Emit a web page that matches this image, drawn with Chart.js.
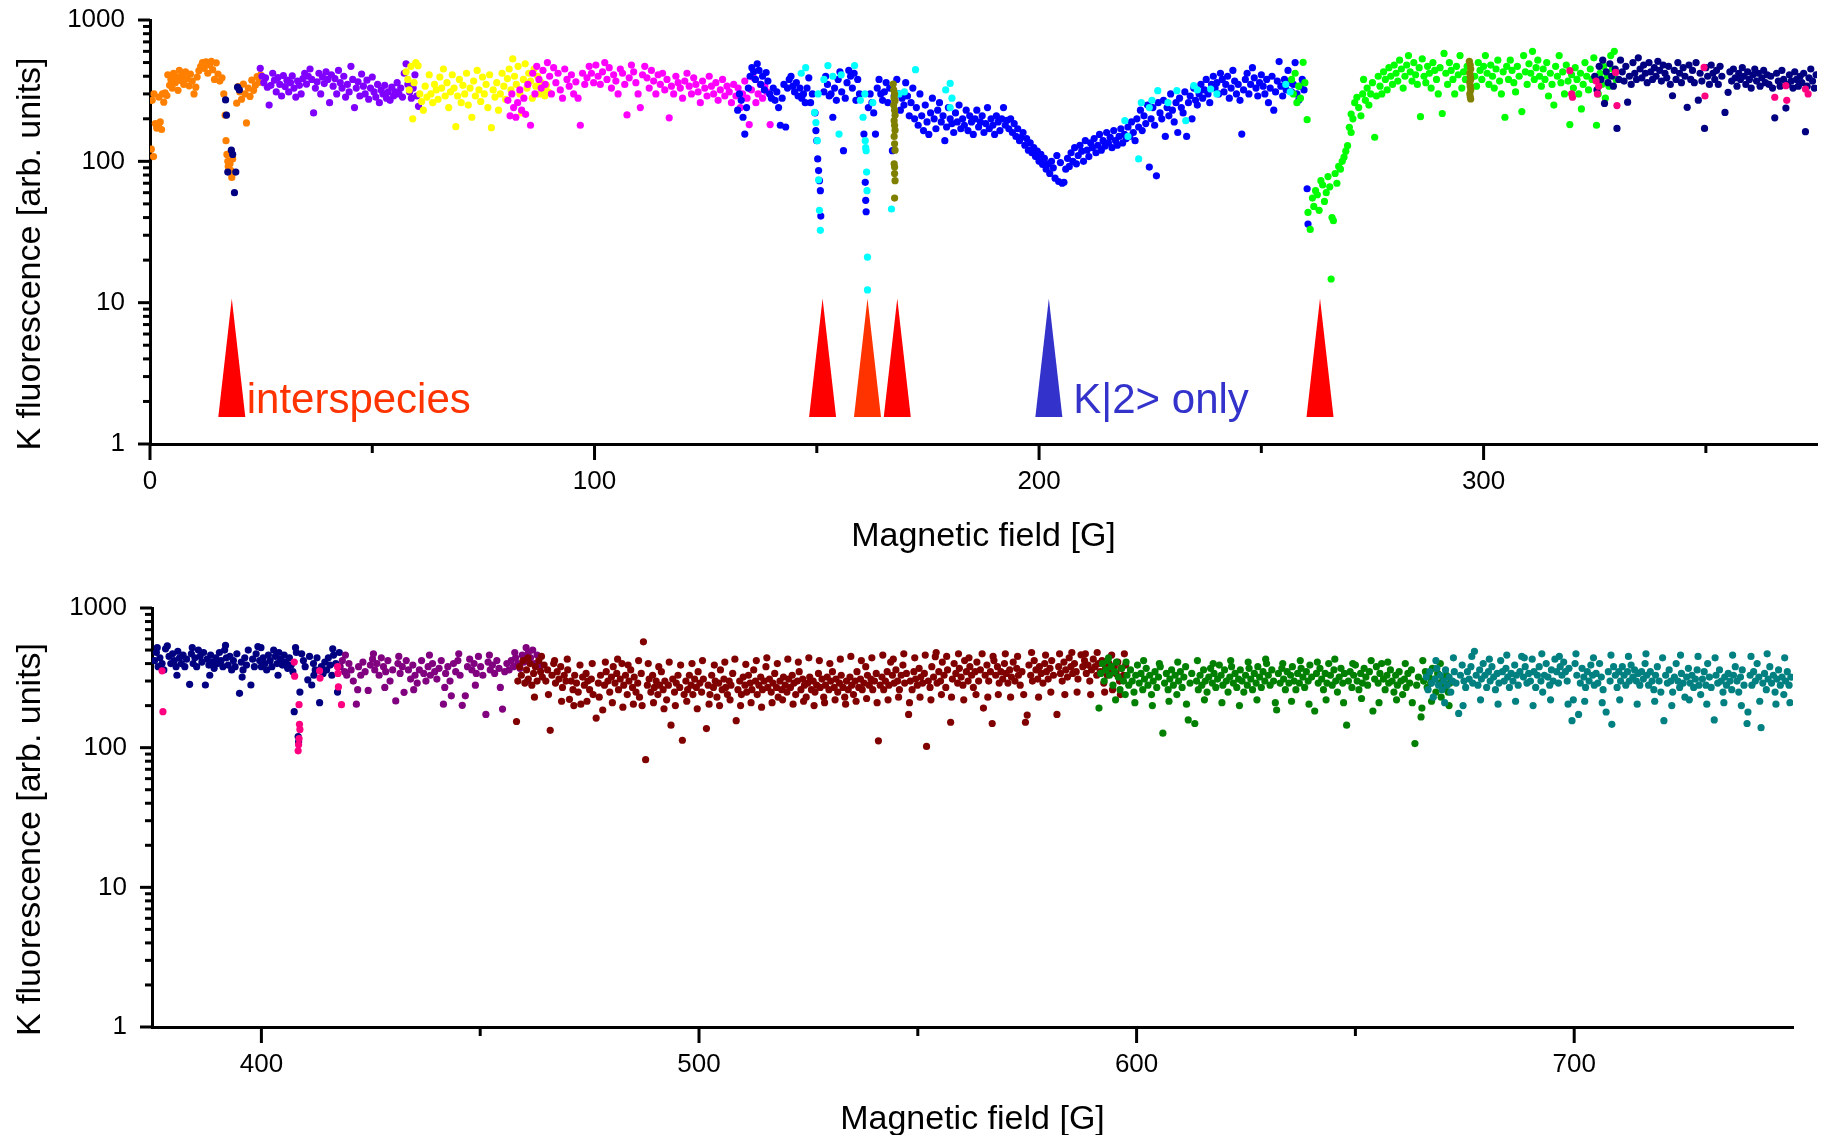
<!DOCTYPE html>
<html>
<head>
<meta charset="utf-8">
<title>K fluorescence vs magnetic field</title>
<script src="https://cdn.jsdelivr.net/npm/chart.js@4/dist/chart.umd.min.js"></script>
<style>
  html, body { margin: 0; padding: 0; background: #fff; }
  #wrap { position: relative; width: 1845px; height: 1135px; }
  #wrap canvas { position: absolute; left: 0; }
  #top { top: 0; }
  #bottom { top: 560px; }
</style>
</head>
<body>
<div id="wrap">
  <canvas id="top" width="1845" height="560"></canvas>
  <canvas id="bottom" width="1845" height="575"></canvas>
</div>
<script>
// ---- axis ticks ----
const topMajorX = [0, 100, 200, 300];
const topMinorX = [50, 150, 250, 350];
const bottomMajorX = [400, 500, 600, 700];
const bottomMinorX = [450, 550, 650];
const yMajor = [1, 10, 100, 1000];
const yMinor = [2, 3, 4, 5, 6, 7, 8, 9, 20, 30, 40, 50, 60, 70, 80, 90, 200, 300, 400, 500, 600, 700, 800, 900];
const xTitle = 'Magnetic field [G]';
const yTitle = 'K fluorescence [arb. units]';

// ---- resonance markers (field in G) ----
const resonanceField = [18.4, 151.3, 161.4, 168.1, 202.2, 263.2];
const resonanceColor = ['#FF0000', '#FF0000', '#FF3300', '#FF0000', '#3333CC', '#FF0000'];
const markerTop = 10.7;
const markerBase = 1.55;
const notes = [
  { text: 'interspecies', field: 21.75, level: 1.66, color: '#FF3300' },
  { text: 'K|2> only', field: 207.7, level: 1.65, color: '#3333CC' }
];

// ---- measured points: [field G, fluorescence] ----
const topOrange = [[0.3,122],[0.8,108],[0.5,270],[0.9,300],[1.2,185],[1.5,172],[1.9,178],[2.3,190],[2.6,168],[2.0,285],[2.8,300],[3.1,262],[3.4,305],[3.8,292],[4.0,410],[4.4,345],[4.7,380],[5.0,330],[5.3,420],[5.7,360],[6.0,395],[6.3,318],[6.6,440],[7.0,372],[7.3,405],[7.6,350],[8.0,430],[8.4,385],[8.8,342],[9.1,415],[9.5,370],[9.9,300],[10.3,335],[10.6,395],[11.0,438],[11.4,470],[11.8,500],[12.2,455],[12.6,505],[13.0,420],[13.4,480],[13.8,510],[14.1,445],[14.5,380],[14.9,498],[15.3,415],[15.7,370],[16.2,390],[16.6,300],[16.9,212],[17.1,140],[17.3,112],[17.5,100],[17.6,92],[17.8,88],[18.0,96],[18.2,86],[18.4,77],[18.6,104],[19.5,258],[19.8,338],[20.2,310],[20.6,275],[21.0,352],[21.4,300],[21.7,187],[22.1,330],[22.5,288],[22.9,375],[23.3,318],[23.7,345],[24.1,398],[24.5,362],[24.9,410]];
const topViolet = [[24.8,455],[25.2,400],[25.6,360],[26.0,390],[26.4,335],[26.8,250],[27.2,345],[27.6,420],[28.0,375],[28.4,310],[28.8,392],[29.2,350],[29.6,290],[30.0,405],[30.4,338],[30.8,375],[31.2,310],[31.6,360],[32.0,402],[32.4,330],[32.8,285],[33.2,370],[33.6,345],[34.0,300],[34.4,385],[34.8,420],[35.2,352],[35.6,400],[36.0,450],[36.4,380],[36.8,220],[37.2,330],[37.6,365],[38.0,420],[38.4,300],[38.8,395],[39.2,355],[39.6,430],[40.0,380],[40.4,260],[40.8,410],[41.2,340],[41.6,385],[42.0,300],[42.4,440],[42.8,360],[43.2,330],[43.6,400],[44.0,285],[44.4,350],[44.8,310],[45.2,470],[45.6,380],[46.0,240],[46.4,330],[46.8,365],[47.2,290],[47.6,415],[48.0,340],[48.4,300],[48.8,375],[49.2,275],[49.6,330],[50.0,395],[50.4,310],[50.8,285],[51.2,350],[51.6,260],[52.0,320],[52.4,300],[52.8,345],[53.2,280],[53.6,310],[54.0,270],[54.4,335],[54.8,290],[55.2,310],[55.6,360],[56.0,300],[56.4,330],[56.8,285],[57.2,420],[57.6,490],[58.0,350],[58.4,310],[58.8,280],[59.2,330],[59.6,410],[60.0,290],[60.4,245]];
const topYellow = [[57.6,430],[58.0,380],[58.3,320],[58.7,470],[59.1,200],[59.4,360],[59.8,500],[60.3,475],[60.7,300],[61.1,265],[61.5,230],[61.9,340],[62.3,285],[62.8,410],[63.2,300],[63.6,260],[64.0,350],[64.4,320],[64.8,275],[65.2,395],[65.6,330],[66.0,450],[66.4,290],[66.8,360],[67.2,240],[67.6,310],[68.0,410],[68.4,330],[68.8,176],[69.2,290],[69.6,380],[70.0,260],[70.4,345],[70.8,300],[71.2,420],[71.6,250],[72.0,330],[72.4,205],[72.8,370],[73.2,290],[73.6,440],[74.0,320],[74.4,265],[74.8,395],[75.2,300],[75.6,350],[76.0,240],[76.4,410],[76.8,173],[77.2,320],[77.6,285],[78.0,360],[78.4,230],[78.8,300],[79.2,420],[79.6,340],[80.0,275],[80.4,385],[80.8,450],[81.2,320],[81.6,530],[82.0,400],[82.4,350],[82.8,470],[83.2,300],[83.6,220],[84.0,380],[84.4,490],[84.8,330],[85.2,420],[85.6,370],[86.0,280],[86.4,450],[86.8,340],[87.2,400],[87.6,300],[88.0,360],[88.4,320],[88.8,290],[89.2,345],[89.6,310]];
const topMagenta = [[80.5,270],[81.0,210],[81.4,300],[81.8,240],[82.3,205],[82.7,260],[83.2,320],[83.6,230],[84.1,280],[84.5,215],[85.0,350],[85.6,180],[86.1,420],[86.6,300],[87.0,470],[87.5,380],[88.0,330],[88.4,440],[88.9,350],[89.4,500],[89.9,400],[90.3,300],[90.8,460],[91.3,360],[91.8,420],[92.3,320],[92.8,280],[93.3,450],[93.8,380],[94.3,340],[94.8,410],[95.3,300],[95.8,365],[96.3,280],[96.8,180],[97.3,420],[97.8,350],[98.3,390],[98.8,470],[99.3,420],[99.8,360],[100.3,480],[100.8,400],[101.3,350],[101.8,430],[102.3,500],[102.8,380],[103.3,460],[103.8,330],[104.3,410],[104.8,370],[105.3,300],[105.8,450],[106.3,420],[106.8,350],[107.3,213],[107.8,390],[108.3,480],[108.8,430],[109.3,360],[109.8,300],[110.3,240],[110.8,410],[111.3,470],[111.8,390],[112.3,330],[112.8,440],[113.3,370],[113.8,300],[114.3,410],[114.8,350],[115.3,420],[115.8,320],[116.3,380],[116.8,203],[117.3,340],[117.8,300],[118.3,400],[118.8,360],[119.3,330],[119.8,280],[120.3,370],[120.8,420],[121.3,340],[121.8,300],[122.3,390],[122.8,350],[123.3,310],[123.8,260],[124.3,370],[124.8,330],[125.3,290],[125.8,400],[126.3,340],[126.8,300],[127.3,360],[127.8,270],[128.3,320],[128.8,380],[129.3,290],[129.8,340],[130.3,310],[130.8,260],[131.3,350],[131.8,290],[132.3,330],[132.8,240],[133.3,300],[133.8,370],[134.3,280],[134.8,182],[135.3,320],[135.8,390],[136.3,260],[136.8,300],[137.3,350],[137.8,280],[138.3,340],[138.8,310],[139.5,182]];
const topBlue = [[132.2,230],[132.6,300],[133.0,270],[133.4,205],[133.8,156],[134.2,240],[134.6,330],[135.0,400],[135.4,460],[135.8,430],[136.2,380],[136.6,490],[137.0,440],[137.4,350],[137.8,400],[138.2,320],[138.6,425],[139.0,370],[139.4,300],[139.8,280],[140.2,330],[140.6,270],[141.0,310],[141.4,240],[141.8,180],[142.2,280],[142.6,350],[143.0,175],[143.4,330],[143.8,380],[144.2,400],[144.6,340],[145.0,310],[145.4,360],[145.8,290],[146.2,330],[146.6,280],[147.0,300],[147.4,260],[147.8,330],[148.2,390],[148.6,260],[149.0,300],[149.6,220],[149.8,165],[150.0,140],[150.2,104],[150.4,86],[150.6,73],[150.8,62],[150.9,41],[151.6,310],[152.0,400],[152.4,350],[152.8,290],[153.2,300],[153.6,205],[154.0,330],[154.4,270],[154.8,380],[155.2,430],[155.6,310],[156.0,119],[156.4,280],[156.8,360],[157.2,440],[157.6,400],[158.0,330],[158.4,420],[158.8,270],[159.2,380],[159.6,300],[160.6,156],[160.9,71],[161.0,53],[161.1,44],[161.6,240],[162.0,300],[162.4,260],[162.8,220],[163.2,156],[163.6,330],[164.0,380],[164.4,300],[164.8,270],[165.2,310],[165.6,361],[166.0,260],[166.4,330],[167.0,119],[167.4,290],[168.0,380],[168.4,300],[168.8,230],[169.2,280],[169.6,250],[170.0,360],[170.4,290],[170.8,210],[171.2,260],[171.6,330],[172.0,200],[172.4,240],[172.8,180],[173.2,300],[173.6,210],[174.0,165],[174.4,250],[174.8,190],[175.2,155],[175.6,220],[176.0,280],[176.4,200],[176.8,170],[177.2,230],[177.6,260],[178.0,190],[178.4,210],[178.8,140],[179.2,175],[179.6,240],[180.0,200],[180.4,185],[180.8,160],[181.2,220],[181.6,190],[182.0,250],[182.4,170],[182.8,200],[183.2,180],[183.6,230],[184.0,165],[184.4,210],[184.8,190],[185.2,155],[185.6,200],[186.0,230],[186.4,175],[186.8,190],[187.2,210],[187.6,160],[188.0,185],[188.4,240],[188.8,170],[189.2,200],[189.6,180],[190.0,155],[190.4,210],[190.8,190],[191.2,165],[191.6,200],[192.0,240],[192.4,180],[192.8,195],[193.2,170],[193.6,200],[194.0,160],[194.4,185],[194.8,150],[195.2,170],[195.6,140],[196.0,148],[196.4,160],[196.8,130],[197.2,145],[197.6,120],[198.0,135],[198.4,115],[198.8,125],[199.2,108],[199.6,118],[200.0,100],[200.4,112],[200.8,95],[201.2,105],[201.6,88],[202.0,96],[202.4,82],[202.8,100],[203.2,90],[203.6,76],[204.0,110],[204.4,72],[204.8,98],[205.2,70],[205.6,71],[206.0,88],[206.4,105],[206.8,92],[207.2,115],[207.6,100],[208.0,125],[208.4,96],[208.8,110],[209.2,130],[209.6,118],[210.0,100],[210.4,140],[210.8,120],[211.2,108],[211.6,135],[212.0,125],[212.4,145],[212.8,115],[213.2,130],[213.6,155],[214.0,120],[214.4,140],[214.8,128],[215.2,160],[215.6,135],[216.0,148],[216.4,125],[216.8,165],[217.2,140],[217.6,130],[218.0,150],[218.4,170],[218.8,135],[219.2,155],[219.6,145],[220.0,175],[220.4,150],[220.8,190],[221.2,160],[221.6,140],[222.0,200],[222.4,175],[222.8,230],[223.2,165],[223.6,210],[224.0,185],[224.4,250],[224.8,91],[225.2,200],[225.6,240],[226.0,180],[226.4,79],[226.8,260],[227.2,220],[227.6,200],[228.0,270],[228.4,150],[228.8,240],[229.2,210],[229.6,300],[230.0,230],[230.4,190],[230.8,260],[231.2,160],[231.6,280],[232.0,240],[232.4,220],[232.8,310],[233.2,150],[233.6,260],[234.0,290],[234.4,200],[234.8,330],[235.2,270],[235.6,250],[236.0,300],[236.4,350],[236.8,280],[237.2,320],[237.6,380],[238.0,300],[238.4,260],[238.8,350],[239.2,400],[239.6,330],[240.0,360],[240.4,300],[240.8,420],[241.2,380],[241.6,310],[242.0,350],[242.4,400],[242.8,280],[243.2,330],[243.6,440],[244.0,370],[244.4,300],[244.8,350],[245.2,270],[245.6,156],[246.0,320],[246.4,380],[246.8,420],[247.2,300],[247.6,350],[248.0,460],[248.4,390],[248.8,330],[249.2,290],[249.6,360],[250.0,410],[250.4,340],[250.8,300],[251.2,380],[251.6,260],[252.0,330],[252.4,400],[252.8,230],[253.2,310],[253.6,370],[254.0,508],[254.4,340],[254.8,290],[255.2,380],[255.6,320],[256.0,440],[256.4,360],[256.8,310],[257.2,350],[257.6,500],[258.0,300],[258.4,270],[258.8,340],[259.2,380],[259.6,320],[260.3,64],[260.5,36]];
const topCyan = [[146.5,420],[147.5,460],[149.5,222],[149.8,188],[150.1,140],[150.4,74],[150.6,45],[150.8,32.5],[150.3,300],[151.6,380],[152.5,476],[153.6,400],[155.0,156],[155.5,410],[158.5,476],[159.8,270],[160.4,205],[160.8,300],[160.9,140],[161.0,125],[161.1,119],[161.2,84],[161.3,62],[161.4,21],[161.4,12.3],[162.6,260],[166.8,46],[168.5,300],[169.7,310],[172.2,445],[179.0,320],[180.0,356],[180.0,240],[180.4,280],[219.3,194],[220.0,150],[222.4,104],[223.0,260],[224.8,240],[225.4,270],[226.7,316],[229.0,260],[231.0,316],[233.0,194],[234.8,343],[235.6,320],[238.6,325],[240.0,300],[255.5,350],[256.5,310]];
const topOlive = [[167.2,352],[167.3,320],[167.5,300],[167.4,280],[167.6,268],[167.3,250],[167.5,230],[167.6,212],[167.4,194],[167.5,180],[167.6,166],[167.4,150],[167.5,133],[167.6,120],[167.4,96],[167.5,91],[167.5,82],[167.6,73],[167.5,55],[296.8,510],[297.0,480],[297.1,450],[296.9,420],[297.0,400],[297.1,380],[296.9,360],[297.0,340],[297.1,320],[296.9,300],[297.0,285],[297.1,276]];
const topGreen = [[256.8,380],[257.2,300],[257.6,420],[258.0,260],[258.4,340],[258.8,280],[259.4,502],[259.8,360],[260.3,197],[260.5,43.5],[261.0,33],[261.5,55],[261.8,48],[262.2,62],[262.6,58],[263.0,45],[263.4,73],[263.8,68],[264.2,52],[264.6,60],[265.0,78],[265.4,66],[265.7,14.7],[265.9,40],[266.2,38],[266.6,82],[267.0,70],[267.4,92],[267.8,88],[268.2,100],[268.6,107],[269.0,118],[269.4,129],[269.8,174],[270.2,160],[270.2,216],[270.6,200],[271.0,260],[271.5,284],[271.9,240],[272.4,210],[272.8,300],[273.0,380],[273.4,270],[273.8,330],[274.2,250],[274.6,300],[275.0,360],[275.5,148],[275.9,290],[276.3,400],[276.7,340],[277.1,300],[277.5,430],[277.9,380],[278.3,320],[278.7,460],[279.1,400],[279.5,350],[279.9,480],[280.3,420],[280.7,370],[281.1,520],[281.5,450],[281.9,330],[282.3,400],[282.7,480],[283.1,560],[283.5,430],[283.9,370],[284.3,500],[284.7,410],[285.1,350],[285.5,460],[285.8,207],[286.2,530],[286.6,400],[287.0,360],[287.4,470],[287.8,420],[288.2,330],[288.6,500],[289.0,440],[289.4,380],[289.8,300],[290.2,460],[290.7,218],[291.1,580],[291.5,420],[291.9,350],[292.3,500],[292.7,440],[293.1,380],[293.5,300],[293.9,470],[294.3,410],[294.7,560],[295.1,330],[295.5,430],[295.9,380],[296.3,470],[298.0,400],[298.4,340],[298.8,500],[299.2,440],[299.6,380],[300.0,470],[300.4,560],[300.8,420],[301.2,350],[301.6,480],[302.0,400],[302.4,330],[302.8,450],[303.2,520],[303.6,370],[304.0,300],[304.4,430],[304.8,205],[305.2,470],[305.6,380],[306.0,520],[306.4,440],[306.8,360],[307.2,310],[307.6,470],[308.0,400],[308.6,225],[309.0,560],[309.4,430],[309.8,350],[310.2,490],[310.6,420],[311.0,600],[311.4,380],[311.8,460],[312.2,520],[312.6,400],[313.0,340],[313.4,450],[313.8,380],[314.2,500],[314.6,290],[315.0,420],[315.4,350],[315.8,250],[316.2,470],[316.6,400],[317.0,560],[317.4,360],[317.8,430],[318.2,300],[318.6,480],[319.0,370],[319.4,182],[319.8,410],[320.2,330],[320.6,460],[321.0,380],[321.4,300],[321.8,420],[322.0,235],[322.4,350],[322.8,500],[323.2,400],[323.6,320],[324.0,450],[324.4,380],[324.8,540],[325.4,180],[325.8,300],[326.2,420],[326.6,350],[327.0,470],[327.4,280],[327.8,400],[328.2,340],[328.6,560],[329.0,450],[329.4,600],[329.8,380]];
const topNavy = [[17.0,272],[17.2,212],[17.5,84],[18.3,120],[18.6,112],[19.0,60],[19.3,84],[19.7,335],[20.1,320],[325.0,400],[325.5,320],[326.0,470],[326.4,380],[326.8,520],[327.2,257],[327.6,430],[328.0,360],[328.4,490],[328.8,400],[329.2,340],[329.6,450],[330.0,171],[330.4,380],[330.8,520],[331.2,430],[331.6,370],[332.0,470],[332.4,262],[332.8,400],[333.2,350],[333.6,500],[334.0,420],[334.4,380],[334.8,540],[335.2,450],[335.6,390],[336.0,480],[336.4,420],[336.8,360],[337.2,500],[337.6,430],[338.0,380],[338.4,460],[338.8,400],[339.2,510],[339.6,440],[340.0,370],[340.4,480],[340.8,420],[341.2,390],[341.6,470],[342.0,350],[342.5,291],[342.9,440],[343.3,380],[343.7,500],[344.1,420],[344.5,360],[344.9,460],[345.3,400],[345.8,241],[346.2,480],[346.6,380],[347.0,440],[347.4,360],[347.8,500],[348.3,271],[348.7,420],[349.1,370],[349.7,171],[350.0,460],[350.4,400],[350.8,350],[351.2,480],[351.6,420],[352.0,380],[352.4,440],[352.8,350],[353.2,470],[353.6,400],[354.3,222],[355.0,308],[355.4,430],[355.8,370],[356.2,450],[356.6,390],[357.0,340],[357.4,420],[357.8,380],[358.2,460],[358.6,400],[359.0,350],[359.4,430],[359.8,380],[360.2,330],[360.6,410],[361.0,450],[361.4,370],[361.8,420],[362.2,340],[362.6,390],[363.0,440],[363.4,360],[363.8,410],[364.2,350],[364.6,400],[365.0,330],[365.5,203],[365.9,420],[366.3,370],[366.7,340],[367.1,440],[367.5,380],[368.0,238],[368.4,350],[368.8,410],[369.2,370],[369.6,330],[370.0,430],[370.4,380],[370.8,340],[371.2,400],[371.6,360],[372.0,420],[372.4,162],[372.8,340],[373.2,390],[373.6,450],[374.0,370],[374.4,330],[374.8,410]];
const topPink = [[319.4,438],[319.8,300],[320.0,284],[325.3,370],[325.6,300],[325.9,340],[329.7,426],[330.0,248],[349.6,462],[349.8,290],[365.5,284],[368.0,343],[368.2,270],[372.4,325],[373.0,300]];

const bottomNavy = [[375.6,420],[376.0,480],[376.2,520],[376.4,380],[376.8,440],[377.3,400],[377.7,360],[378.1,510],[378.5,535],[378.9,450],[379.3,400],[379.7,470],[380.1,420],[380.5,380],[380.7,330],[380.9,490],[381.3,440],[381.7,400],[382.1,460],[382.5,380],[382.9,430],[383.6,284],[384.0,470],[384.2,520],[384.4,400],[384.8,440],[385.2,380],[385.6,500],[386.0,450],[386.4,410],[386.8,480],[387.2,281],[387.6,430],[388.0,390],[388.2,330],[388.4,460],[388.8,410],[389.2,370],[389.6,440],[390.0,400],[390.4,480],[390.8,420],[391.2,380],[391.6,500],[391.8,540],[392.0,440],[392.4,390],[392.8,450],[393.2,360],[393.6,420],[394.0,380],[394.4,470],[395.0,245],[395.4,410],[395.6,320],[395.8,360],[396.2,440],[396.6,390],[397.0,500],[397.6,281],[398.0,430],[398.4,380],[398.8,470],[399.2,530],[399.6,420],[399.9,520],[400.0,380],[400.4,440],[400.8,400],[401.2,360],[401.6,460],[402.0,420],[402.4,380],[402.8,500],[403.2,450],[403.6,400],[403.8,330],[404.0,480],[404.4,430],[404.8,390],[405.2,460],[405.6,410],[406.0,370],[406.4,440],[406.8,390],[407.2,350],[407.5,181],[407.8,520],[408.0,480],[408.4,120],[408.5,110],[408.8,250],[409.2,470],[409.6,420],[410.0,380],[410.6,306],[411.0,450],[411.5,281],[411.9,400],[412.0,330],[412.3,360],[412.7,440],[413.3,210],[413.7,380],[414.1,340],[414.5,410],[414.9,360],[415.3,440],[415.7,390],[416.1,330],[416.3,510],[416.5,460],[417.0,400],[417.4,250],[417.8,480]];
const bottomPink = [[377.3,355],[377.5,181],[407.5,410],[407.6,325],[408.6,203],[408.7,147],[408.8,135],[408.6,116],[408.4,95],[408.5,105],[413.3,355],[413.4,315],[417.4,380],[417.5,340],[417.6,272],[418.3,203]];
const bottomPurple = [[418.0,380],[418.5,420],[419.0,350],[419.2,460],[419.5,330],[420.0,400],[420.5,360],[421.0,300],[421.7,205],[422.0,260],[422.2,380],[422.7,330],[423.2,410],[423.7,350],[424.4,257],[424.9,390],[425.4,430],[425.6,470],[425.9,360],[426.4,400],[426.9,330],[427.4,440],[427.9,380],[428.2,270],[428.4,350],[428.9,420],[429.4,300],[430.0,360],[430.7,216],[431.2,400],[431.4,450],[431.7,340],[432.2,380],[432.6,249],[433.1,420],[433.6,360],[434.1,310],[434.6,390],[434.8,260],[435.1,330],[435.6,290],[436.1,360],[436.6,420],[437.1,340],[437.6,300],[438.1,380],[438.4,460],[438.6,330],[439.1,400],[439.6,350],[440.1,310],[440.6,370],[441.1,420],[441.6,205],[441.9,270],[442.1,340],[442.6,380],[443.1,300],[443.4,235],[443.9,400],[444.4,350],[444.9,420],[445.1,470],[445.4,330],[445.9,201],[446.6,235],[447.1,380],[447.6,430],[448.1,360],[448.6,400],[448.9,280],[449.1,340],[449.6,450],[450.1,380],[450.6,330],[451.3,173],[451.8,410],[452.1,460],[452.3,360],[452.8,390],[453.3,340],[453.8,420],[454.3,370],[454.6,270],[455.1,189],[455.6,350],[456.1,400],[456.6,360],[457.1,420],[457.6,380],[457.9,480],[458.1,440],[458.6,400],[459.1,370],[459.6,460],[460.0,410],[460.5,520],[460.8,300],[461.0,480],[461.5,440],[462.0,500],[462.5,400],[463.0,460],[463.6,380]];
const bottomMaroon = [[458.3,154],[458.6,300],[459.0,380],[459.4,330],[459.8,420],[460.2,290],[460.6,360],[460.9,440],[461.0,310],[461.4,400],[461.8,280],[462.2,340],[462.4,230],[462.6,380],[463.0,300],[463.4,420],[463.8,350],[464.0,450],[464.2,320],[464.6,390],[465.0,300],[465.4,360],[465.6,240],[466.0,133],[466.4,330],[466.8,400],[467.0,420],[467.2,290],[467.6,350],[468.0,310],[468.4,380],[468.6,215],[468.8,270],[469.2,330],[469.6,300],[469.9,430],[470.0,360],[470.4,222],[470.8,300],[471.2,260],[471.4,200],[471.6,330],[472.0,290],[472.4,250],[472.8,390],[473.0,205],[473.4,320],[473.8,280],[474.2,340],[474.4,215],[474.6,300],[475.0,260],[475.4,310],[475.6,400],[475.8,240],[476.5,163],[477.0,290],[477.2,230],[477.5,330],[478.0,186],[478.4,280],[478.6,410],[478.8,350],[479.2,300],[479.6,250],[480.0,320],[480.2,210],[480.4,380],[480.8,290],[481.2,340],[481.4,430],[481.6,260],[482.0,310],[482.4,400],[482.6,195],[482.8,280],[483.2,330],[483.6,240],[483.8,390],[484.0,300],[484.4,360],[484.8,270],[485.0,205],[485.2,320],[485.6,250],[486.0,290],[486.2,420],[486.4,230],[486.8,340],[487.0,200],[487.3,573],[487.8,82],[488.2,280],[488.4,400],[488.6,310],[489.0,250],[489.4,330],[489.6,210],[489.8,270],[490.2,300],[490.6,240],[490.8,380],[491.0,280],[491.4,350],[491.8,260],[492.0,190],[492.2,300],[492.6,220],[493.0,280],[493.2,410],[493.6,145],[494.0,310],[494.4,250],[494.6,200],[494.8,290],[495.2,330],[495.6,270],[495.8,390],[496.2,113],[496.6,240],[497.0,300],[497.2,215],[497.4,260],[497.8,330],[498.2,280],[498.4,400],[498.6,240],[499.0,310],[499.4,270],[499.6,190],[499.8,350],[500.2,290],[500.6,250],[500.8,420],[501.0,310],[501.7,137],[502.1,280],[502.3,205],[502.5,240],[502.9,330],[503.3,270],[503.5,390],[503.7,300],[504.1,230],[504.5,290],[504.7,200],[504.9,360],[505.3,260],[505.7,310],[505.9,410],[506.1,270],[506.5,240],[506.9,300],[507.1,220],[507.3,280],[507.7,340],[508.2,430],[508.5,156],[508.9,260],[509.3,300],[509.5,200],[509.7,240],[510.1,320],[510.5,280],[510.7,395],[510.9,250],[511.3,330],[511.7,290],[511.9,210],[512.1,260],[512.5,360],[512.9,300],[513.1,420],[513.3,240],[513.7,280],[514.1,320],[514.3,195],[514.5,260],[514.9,300],[515.3,380],[515.5,440],[515.7,270],[516.1,310],[516.5,250],[516.7,210],[516.9,290],[517.3,340],[517.7,270],[517.9,400],[518.1,230],[518.5,300],[518.9,260],[519.1,220],[519.3,320],[519.7,280],[520.1,250],[520.3,430],[520.5,310],[520.9,270],[521.3,330],[521.5,205],[521.7,290],[522.1,240],[522.5,300],[522.7,410],[522.9,350],[523.3,260],[523.7,310],[523.9,215],[524.1,280],[524.5,230],[524.9,290],[525.1,440],[525.3,320],[525.7,260],[526.1,300],[526.3,200],[526.5,250],[526.9,280],[527.3,340],[527.5,420],[527.7,270],[528.1,310],[528.5,230],[528.7,210],[528.9,280],[529.3,320],[529.7,260],[529.9,400],[530.1,300],[530.5,350],[530.9,270],[531.1,220],[531.3,310],[531.7,250],[532.1,290],[532.3,430],[532.5,330],[532.9,270],[533.3,230],[533.5,205],[533.7,300],[534.1,260],[534.5,320],[534.7,450],[534.9,280],[535.3,240],[535.7,300],[535.9,215],[536.1,350],[536.5,270],[536.9,310],[537.1,420],[537.3,260],[537.7,290],[538.1,380],[538.3,225],[538.5,330],[538.9,280],[539.3,310],[539.5,440],[539.7,260],[540.1,300],[540.5,340],[540.7,210],[541.0,112],[541.4,280],[541.8,320],[542.0,460],[542.2,260],[542.6,300],[543.0,350],[543.2,220],[543.4,280],[543.8,410],[544.2,330],[544.4,430],[544.6,290],[545.0,360],[545.4,300],[545.6,230],[545.8,260],[546.2,330],[546.6,390],[546.8,470],[547.0,290],[547.4,340],[547.9,173],[548.1,210],[548.3,300],[548.7,260],[549.1,350],[549.3,440],[549.5,310],[549.9,280],[550.3,370],[550.5,230],[550.7,320],[551.1,290],[551.5,340],[551.7,460],[552.0,102],[552.4,300],[552.8,270],[553.0,220],[553.2,380],[553.6,320],[554.0,448],[554.2,480],[554.4,290],[554.8,350],[555.2,300],[555.4,240],[555.6,410],[556.0,330],[556.4,270],[556.6,450],[556.8,360],[557.5,152],[557.7,230],[557.9,310],[558.3,400],[558.7,340],[559.1,290],[559.3,470],[559.5,370],[559.9,320],[560.3,280],[560.5,220],[560.7,420],[561.1,350],[561.5,300],[561.7,440],[561.9,380],[562.3,330],[562.7,270],[563.1,350],[563.3,240],[563.5,410],[563.9,300],[564.3,360],[564.7,470],[565.0,192],[565.4,330],[565.8,390],[566.0,230],[566.2,300],[566.6,350],[567.0,149],[567.2,450],[567.4,420],[567.8,330],[568.2,380],[568.4,240],[568.6,290],[569.0,350],[569.4,310],[569.8,400],[570.0,470],[570.2,340],[570.6,290],[571.0,360],[571.2,230],[571.4,320],[571.8,410],[572.2,300],[572.6,370],[572.8,450],[573.0,330],[573.4,280],[573.8,350],[574.2,240],[574.6,152],[575.0,171],[575.4,390],[575.8,330],[576.0,480],[576.2,300],[576.6,420],[577.0,360],[577.4,310],[577.6,230],[577.8,380],[578.2,340],[578.6,290],[579.0,400],[579.2,460],[579.4,350],[579.8,310],[580.2,370],[580.4,250],[580.6,420],[581.0,330],[581.8,173],[582.2,380],[582.4,470],[582.6,340],[583.0,300],[583.4,410],[583.6,240],[583.8,360],[584.2,320],[584.6,440],[585.0,380],[585.2,480],[585.4,340],[585.8,400],[586.2,350],[586.4,250],[586.6,310],[587.3,462],[587.7,380],[588.1,420],[588.3,470],[588.5,340],[588.9,390],[589.3,300],[589.5,240],[589.7,360],[590.1,430],[590.5,380],[590.9,330],[591.0,480],[591.3,400],[591.7,350],[592.1,420],[592.5,290],[592.7,250],[592.9,370],[593.3,330],[593.7,400],[594.1,360],[594.3,460],[594.5,260],[594.9,380],[595.3,340],[595.7,410],[596.1,300],[596.3,240],[596.5,370],[597.0,330],[597.2,470],[597.5,390]];
const bottomGreen = [[591.4,192],[591.8,340],[592.2,400],[592.6,300],[593.0,360],[593.4,420],[593.6,440],[593.8,330],[594.2,380],[594.6,280],[595.0,350],[595.2,220],[595.4,410],[595.8,320],[596.2,260],[596.6,370],[597.0,300],[597.4,240],[597.6,410],[597.8,330],[598.2,280],[598.6,360],[599.0,300],[599.4,250],[599.6,210],[599.8,330],[600.2,390],[600.6,290],[601.0,340],[601.4,260],[601.6,420],[601.8,310],[602.2,370],[602.6,280],[603.0,330],[603.4,240],[603.6,200],[603.8,300],[604.2,350],[604.6,270],[605.0,320],[605.2,400],[605.4,380],[606.0,127],[606.4,290],[606.8,340],[607.2,260],[607.4,215],[607.6,310],[608.0,360],[608.4,280],[608.8,330],[609.2,240],[609.4,410],[609.6,300],[610.0,350],[610.4,270],[610.8,320],[611.2,380],[611.4,205],[611.8,158],[612.2,290],[612.6,340],[613.3,149],[613.7,300],[613.9,420],[614.1,260],[614.5,330],[614.9,280],[615.3,360],[615.5,220],[615.7,300],[616.1,250],[616.5,320],[616.9,370],[617.3,290],[617.5,400],[617.7,340],[618.1,270],[618.5,310],[618.9,390],[619.3,330],[619.5,210],[619.7,280],[620.1,360],[620.5,300],[620.9,250],[621.3,320],[621.5,420],[621.7,380],[622.1,290],[622.5,340],[622.9,270],[623.3,310],[623.5,200],[623.7,360],[624.1,300],[624.5,250],[624.9,330],[625.3,280],[625.5,410],[625.7,370],[626.1,310],[626.5,260],[626.9,340],[627.3,290],[627.5,220],[627.7,380],[628.1,320],[628.5,270],[628.9,350],[629.3,300],[629.5,430],[629.7,400],[630.1,330],[630.5,280],[630.9,360],[631.3,300],[631.7,210],[632.0,186],[632.4,340],[632.8,290],[633.2,370],[633.4,400],[633.6,310],[634.0,260],[634.4,350],[634.8,290],[635.2,330],[635.4,215],[635.6,380],[636.0,300],[636.4,260],[636.8,340],[637.2,290],[637.4,420],[637.6,370],[638.0,320],[638.4,270],[638.8,350],[639.2,300],[639.4,205],[639.6,390],[640.0,320],[640.7,183],[641.1,340],[641.3,410],[641.5,290],[641.9,370],[642.3,310],[642.7,260],[643.1,340],[643.3,220],[643.5,290],[643.9,400],[644.3,330],[644.7,280],[645.1,360],[645.3,430],[645.5,300],[645.9,250],[646.3,320],[646.7,370],[647.1,290],[647.3,210],[647.5,340],[648.0,145],[648.4,300],[648.8,350],[649.2,270],[649.4,400],[649.6,330],[650.0,390],[650.4,300],[650.8,260],[651.2,340],[651.4,225],[651.6,290],[652.0,370],[652.4,320],[652.8,280],[653.2,350],[653.6,420],[654.0,183],[654.4,310],[654.8,380],[655.2,290],[655.4,210],[655.6,340],[656.0,400],[656.4,310],[656.8,260],[657.2,330],[657.4,410],[657.6,290],[658.0,360],[658.4,300],[658.8,250],[659.2,330],[659.4,220],[659.6,280],[660.0,350],[660.4,300],[660.8,240],[661.2,310],[661.4,400],[661.6,270],[662.0,340],[662.4,290],[662.8,360],[663.0,210],[663.6,107],[664.0,280],[664.4,320],[665.0,166],[665.2,192],[665.4,420],[665.6,300],[666.0,350],[666.4,270],[666.8,320],[667.2,290],[667.4,215],[667.6,370],[668.0,310],[668.4,250],[668.8,340],[669.2,290],[669.4,400],[669.6,230],[670.0,310],[670.4,270],[670.8,330],[671.2,250],[671.4,200],[671.6,290]];
const bottomTeal = [[666.2,320],[666.6,260],[667.0,350],[667.4,290],[667.8,230],[668.2,310],[668.4,420],[668.6,370],[669.0,280],[669.4,330],[669.8,260],[670.2,300],[670.4,210],[670.6,360],[671.0,280],[671.4,320],[671.8,250],[672.2,300],[672.4,440],[672.6,350],[673.0,290],[673.6,176],[674.0,330],[674.4,390],[674.6,200],[674.8,300],[675.2,270],[675.6,350],[676.0,310],[676.4,380],[676.6,450],[676.8,290],[677.2,490],[677.6,330],[678.0,280],[678.4,360],[678.6,220],[678.8,310],[679.2,400],[679.6,330],[680.0,270],[680.4,350],[680.6,430],[680.8,300],[681.2,380],[681.6,320],[682.0,260],[682.4,340],[682.6,205],[682.8,290],[683.2,420],[683.6,350],[684.0,300],[684.4,370],[684.6,460],[684.8,320],[685.2,270],[685.6,340],[686.0,300],[686.4,390],[686.6,215],[686.8,330],[687.2,280],[687.6,350],[688.0,450],[688.4,320],[688.6,440],[688.8,380],[689.2,290],[689.6,340],[690.0,300],[690.4,430],[690.6,200],[690.8,350],[691.2,270],[691.6,330],[692.0,380],[692.4,300],[692.6,470],[692.8,250],[693.2,330],[693.6,400],[694.0,320],[694.4,280],[694.6,220],[694.8,360],[695.2,300],[695.6,430],[696.0,350],[696.4,290],[696.6,450],[696.8,380],[697.2,330],[697.6,410],[698.0,350],[698.4,300],[698.6,205],[698.8,370],[699.5,156],[699.8,220],[700.2,400],[700.4,470],[700.6,330],[701.0,173],[701.4,290],[701.8,370],[702.2,320],[702.4,215],[702.6,270],[703.0,350],[703.4,300],[703.8,390],[704.2,330],[704.4,440],[704.6,280],[705.0,340],[705.4,290],[705.8,400],[706.2,320],[706.4,210],[706.6,260],[707.3,180],[707.8,350],[708.2,300],[708.4,460],[708.6,147],[709.0,380],[709.4,330],[709.8,270],[710.2,350],[710.4,220],[710.6,300],[711.0,380],[711.4,330],[711.8,280],[712.2,350],[712.4,450],[712.6,300],[713.0,390],[713.4,320],[713.8,360],[714.2,300],[714.4,205],[714.6,340],[715.0,280],[715.4,350],[715.8,310],[716.2,400],[716.4,470],[716.6,330],[717.0,280],[717.4,350],[717.8,300],[718.2,260],[718.4,215],[718.6,330],[719.0,380],[719.4,300],[719.8,250],[720.2,440],[720.5,156],[720.9,330],[721.3,290],[721.7,360],[722.1,300],[722.3,200],[722.5,250],[722.9,320],[723.3,400],[723.7,300],[724.1,270],[724.3,460],[724.5,340],[724.9,290],[725.3,230],[725.7,320],[726.1,370],[726.3,220],[726.5,290],[726.9,330],[727.3,270],[727.7,310],[728.1,360],[728.3,450],[728.5,280],[728.9,240],[729.3,310],[729.7,350],[730.1,280],[730.3,205],[730.5,400],[730.9,320],[731.3,270],[732.0,158],[732.2,440],[732.4,330],[732.8,290],[733.2,360],[733.6,300],[734.0,250],[734.2,210],[734.4,320],[734.8,280],[735.2,340],[735.6,300],[736.0,260],[736.2,460],[736.4,330],[736.8,380],[737.2,300],[737.6,250],[738.0,320],[738.2,200],[738.4,360],[738.8,280],[739.5,149],[739.7,180],[740.2,330],[740.4,450],[740.6,280],[741.0,350],[741.4,300],[741.8,400],[742.2,320],[742.4,215],[742.7,139],[743.1,290],[743.5,340],[743.9,260],[744.1,470],[744.3,310],[744.7,380],[745.1,290],[745.5,330],[745.9,250],[746.1,205],[746.3,310],[746.7,360],[747.1,280],[747.5,320],[747.9,240],[748.1,440],[748.3,300],[748.7,350],[749.1,280],[749.3,210],[749.5,320]];

// ---- drawing ----
const FONT = '"Liberation Sans", Arial, Helvetica, sans-serif';
Chart.defaults.font.family = FONT;
Chart.defaults.color = '#000';

function series(data, color) {
  return {
    data, backgroundColor: color, borderColor: color,
    pointStyle: 'circle', pointRadius: 3.6, pointBorderWidth: 0, pointHoverRadius: 3.6
  };
}

// axis tick marks, minor log ticks and axis titles
const axisDecor = {
  id: 'axisDecor',
  afterDraw(chart, args, o) {
    const { ctx, chartArea: a } = chart;
    const x = chart.scales.x, y = chart.scales.y;
    ctx.save();
    ctx.strokeStyle = '#000';
    ctx.lineWidth = 3;
    const seg = (x1, y1, x2, y2) => { ctx.beginPath(); ctx.moveTo(x1, y1); ctx.lineTo(x2, y2); ctx.stroke(); };
    o.majorX.forEach(v => { const p = x.getPixelForValue(v); seg(p, a.bottom, p, a.bottom + 16); });
    o.minorX.forEach(v => { const p = x.getPixelForValue(v); seg(p, a.bottom, p, a.bottom + 9); });
    yMajor.forEach(v => { const p = y.getPixelForValue(v); seg(a.left, p, a.left - 12, p); });
    yMinor.forEach(v => { const p = y.getPixelForValue(v); seg(a.left, p, a.left - 7, p); });

    ctx.fillStyle = '#000';
    ctx.font = '34px ' + FONT;
    ctx.textAlign = 'center';
    ctx.textBaseline = 'alphabetic';
    ctx.fillText(xTitle, (a.left + a.right) / 2, a.bottom + 102);
    ctx.translate(40, (a.top + a.bottom) / 2 + 22);
    ctx.rotate(-Math.PI / 2);
    ctx.fillText(yTitle, 0, 0);
    ctx.restore();
  }
};

// resonance triangles and their captions
const resonanceMarks = {
  id: 'resonanceMarks',
  afterDatasetsDraw(chart, args, o) {
    if (!o.show) return;
    const { ctx } = chart;
    const x = chart.scales.x, y = chart.scales.y;
    const yTop = y.getPixelForValue(markerTop);
    const yBase = y.getPixelForValue(markerBase);
    ctx.save();
    resonanceField.forEach((f, i) => {
      const p = x.getPixelForValue(f);
      ctx.fillStyle = resonanceColor[i];
      ctx.beginPath();
      ctx.moveTo(p - 13.5, yBase);
      ctx.lineTo(p, yTop);
      ctx.lineTo(p + 13.5, yBase);
      ctx.closePath();
      ctx.fill();
    });
    ctx.font = '42px ' + FONT;
    ctx.textAlign = 'left';
    ctx.textBaseline = 'alphabetic';
    notes.forEach(n => {
      ctx.fillStyle = n.color;
      ctx.fillText(n.text, x.getPixelForValue(n.field), y.getPixelForValue(n.level));
    });
    ctx.restore();
  }
};

function makePanel(canvasId, datasets, xMin, xMax, majorX, minorX, pad, xAxisHeight, yAxisWidth, showMarks) {
  return new Chart(document.getElementById(canvasId), {
    type: 'scatter',
    data: { datasets },
    plugins: [axisDecor, resonanceMarks],
    options: {
      responsive: false,
      animation: false,
      devicePixelRatio: 1,
      events: [],
      layout: { padding: pad },
      plugins: {
        legend: { display: false },
        tooltip: { enabled: false },
        axisDecor: { majorX, minorX },
        resonanceMarks: { show: showMarks }
      },
      scales: {
        x: {
          type: 'linear', min: xMin, max: xMax, bounds: 'data',
          afterBuildTicks: s => { s.ticks = majorX.map(v => ({ value: v })); },
          afterFit: s => { s.height = xAxisHeight; s.paddingLeft = 0; s.paddingRight = 0; },
          grid: { display: false, drawTicks: false },
          border: { display: true, color: '#000', width: 3 },
          ticks: { autoSkip: false, maxRotation: 0, padding: 22, font: { size: 26 }, color: '#000',
                   callback: v => String(v) },
          title: { display: false }
        },
        y: {
          type: 'logarithmic', min: 1, max: 1000,
          afterBuildTicks: s => { s.ticks = yMajor.map(v => ({ value: v })); },
          afterFit: s => { s.width = yAxisWidth; s.paddingTop = 0; s.paddingBottom = 0; },
          grid: { display: false, drawTicks: false },
          border: { display: true, color: '#000', width: 3 },
          ticks: { autoSkip: false, padding: 25, font: { size: 26 }, color: '#000',
                   callback: v => String(v) },
          title: { display: false }
        }
      }
    }
  });
}

makePanel('top', [
  series(topPink, '#FF0080'),
  series(topOlive, '#808000'),
  series(topCyan, '#00FFFF'),
  series(topNavy, '#000080'),
  series(topGreen, '#00FF00'),
  series(topBlue, '#0000FF'),
  series(topMagenta, '#FF00FF'),
  series(topYellow, '#FFFF00'),
  series(topViolet, '#8000FF'),
  series(topOrange, '#FF8000')
], 0, 375, topMajorX, topMinorX, { left: 0, top: 20, right: 28, bottom: 0 }, 116, 150, true);

makePanel('bottom', [
  series(bottomPink, '#FF0080'),
  series(bottomTeal, '#008080'),
  series(bottomGreen, '#008000'),
  series(bottomMaroon, '#800000'),
  series(bottomPurple, '#800080'),
  series(bottomNavy, '#000080')
], 375, 750, bottomMajorX, bottomMinorX, { left: 0, top: 48, right: 52, bottom: 0 }, 108, 152, false);
</script>
</body>
</html>
